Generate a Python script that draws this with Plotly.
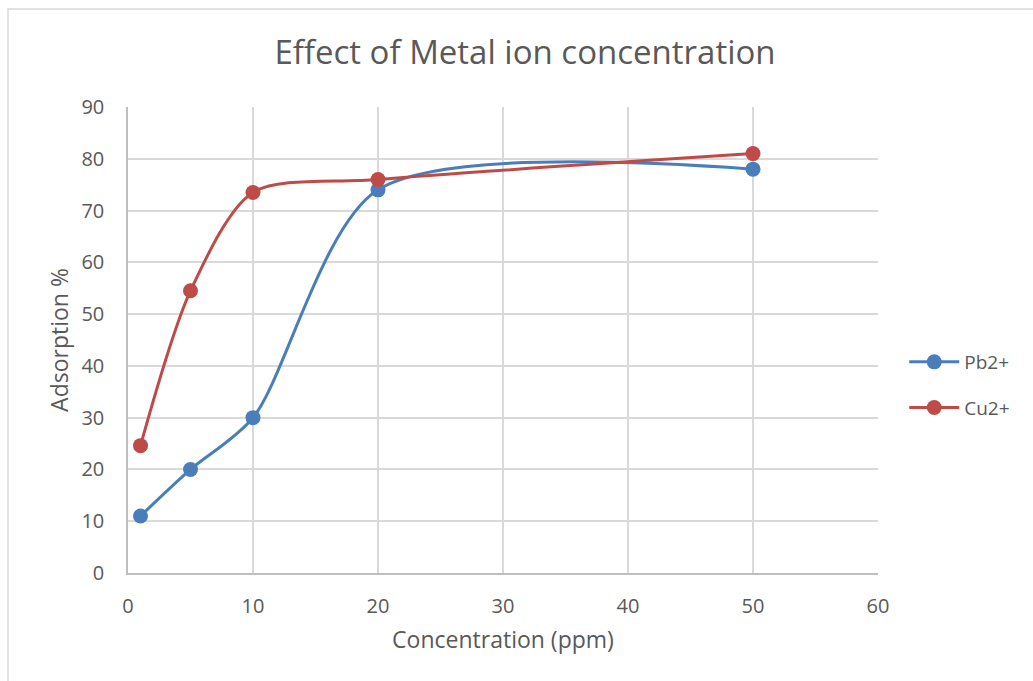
import plotly.graph_objects as go

# Concentration (ppm) and adsorption (%) for each metal ion
concentration = [1, 5, 10, 20, 50]
pb_adsorption = [11, 20, 30, 74, 78]
cu_adsorption = [24.6, 54.5, 73.5, 76, 81]

x_ticks = [0, 10, 20, 30, 40, 50, 60]
y_ticks = [0, 10, 20, 30, 40, 50, 60, 70, 80, 90]

BLUE = "#4A7EBB"
RED = "#BE4B48"
TEXT = "#595959"
GRID = "#D9D9D9"
FONT = "Open Sans, Lato, sans-serif"
SMOOTH = 0.8

fig = go.Figure()
fig.add_trace(go.Scatter(
    x=concentration, y=pb_adsorption, name="Pb2+", legendgroup="pb",
    mode="lines+markers",
    line=dict(color=BLUE, width=3, shape="spline", smoothing=SMOOTH),
    marker=dict(color=BLUE, size=15),
))
fig.add_trace(go.Scatter(
    x=concentration, y=cu_adsorption, name="Cu2+", legendgroup="cu",
    mode="lines+markers",
    line=dict(color=RED, width=3, shape="spline", smoothing=SMOOTH),
    marker=dict(color=RED, size=15),
))

fig.update_layout(
    width=1033, height=681,
    margin=dict(l=128, r=155, t=107, b=108),
    paper_bgcolor="white", plot_bgcolor="white",
    font=dict(family=FONT, color=TEXT, size=19),
    title=dict(text="Effect of Metal ion concentration", x=525 / 1033, xref="container",
               xanchor="center", y=1 - 52 / 681, yanchor="middle",
               font=dict(size=33, color=TEXT, family=FONT)),
    xaxis=dict(range=[0, 60], tickvals=x_ticks, showgrid=True, gridcolor=GRID,
               gridwidth=1.5, zeroline=False, showline=True, linecolor="#BFBFBF",
               linewidth=1.5, ticks="", ticklabelstandoff=14,
               tickfont=dict(size=20, color=TEXT),
               title=dict(text="Concentration (ppm)", font=dict(size=23, color=TEXT),
                          standoff=14)),
    yaxis=dict(range=[0, 90], tickvals=y_ticks, showgrid=True, gridcolor=GRID,
               gridwidth=1.5, zeroline=False, showline=True, linecolor="#BFBFBF",
               linewidth=1.5, ticks="", ticklabelstandoff=18,
               tickfont=dict(size=20, color=TEXT),
               title=dict(text="Adsorption %", font=dict(size=23, color=TEXT),
                          standoff=6)),
    legend=dict(x=1.035, y=(573 - 385) / 466, xanchor="left", yanchor="middle",
                font=dict(size=19, color=TEXT), itemwidth=50,
                tracegroupgap=18, bgcolor="rgba(0,0,0,0)"),
    showlegend=True,
)

# Chart-area border
fig.add_shape(type="rect", xref="paper", yref="paper",
              x0=-120 / 750, x1=1.0 + 170 / 750, y0=-120 / 466, y1=1.0 + 98 / 466,
              line=dict(color="#D9D9D9", width=1.5), fillcolor="rgba(0,0,0,0)",
              layer="below")

fig.write_html("out.html")
